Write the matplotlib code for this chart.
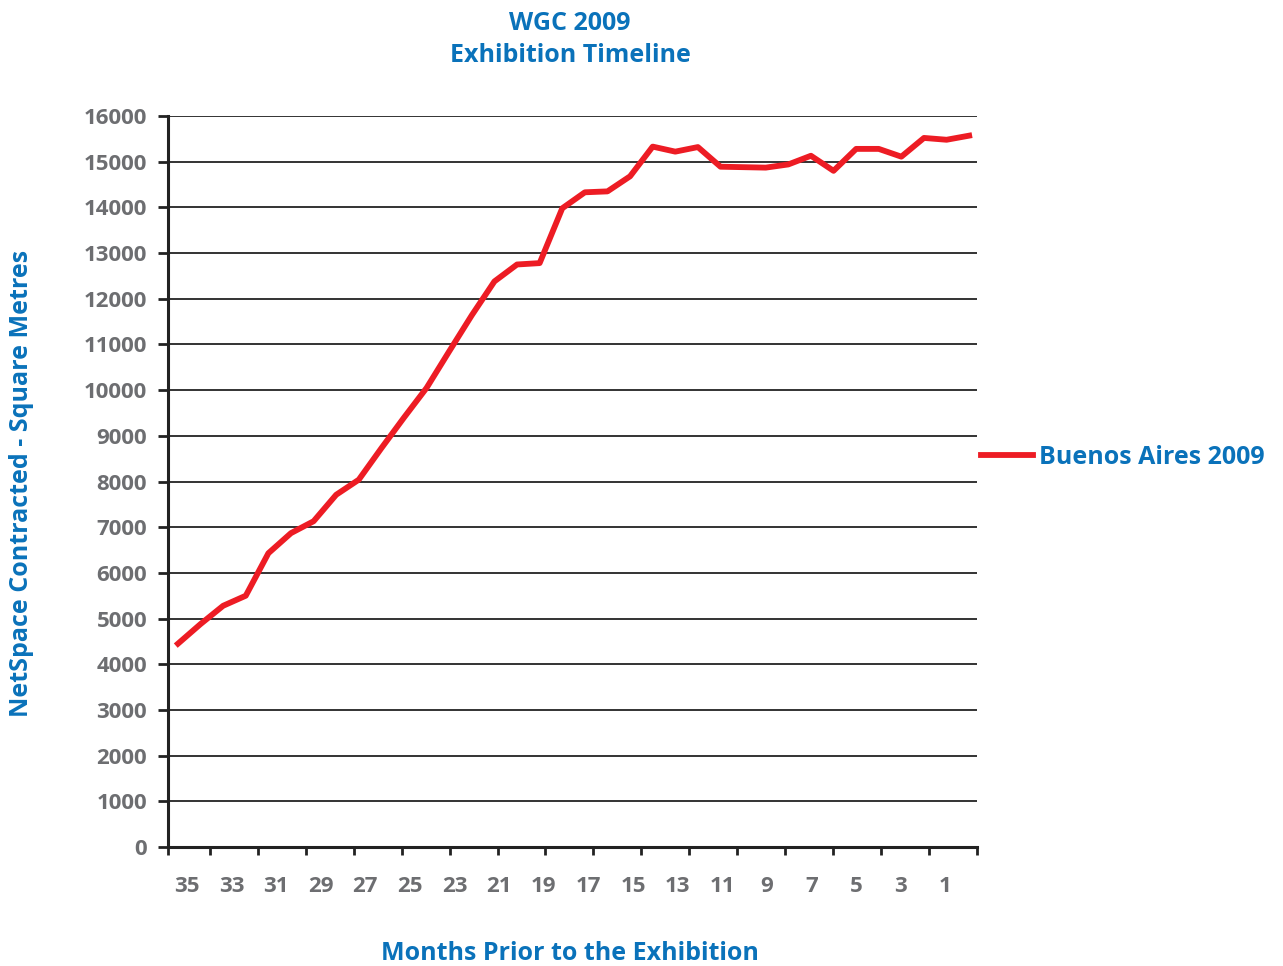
import matplotlib.pyplot as plt
import numpy as np

# Data: months prior to the exhibition and contracted net space (sq m)
months = list(range(36, 0, -1))
net_space = [4450, 4880, 5280, 5500, 6430, 6870, 7130, 7710, 8040, 8730,
             9400, 10050, 10850, 11640, 12380, 12750, 12780, 13980, 14330, 14350,
             14680, 15330, 15220, 15320, 14890, 14880, 14870, 14940, 15130, 14800,
             15280, 15280, 15110, 15520, 15480, 15570]

tick_labels = [35, 33, 31, 29, 27, 25, 23, 21, 19, 17, 15, 13, 11, 9, 7, 5, 3, 1]
y_ticks = list(range(0, 16001, 1000))

blue = "#0a72ba"
grey = "#6d6e71"
red = "#ed1c24"

plt.rcParams['font.family'] = ['Open Sans', 'DejaVu Sans']
plt.rcParams['font.weight'] = 'bold'

fig = plt.figure(figsize=(12.83, 9.66), dpi=100)
ax = fig.add_axes([168 / 1283, 1 - 847 / 966, (977 - 168) / 1283, (847 - 116) / 966])

line, = ax.plot(months, net_space, color=red, linewidth=4.2, solid_joinstyle='round')

# x axis: months run right-to-left, labels sit between the tick marks
ax.set_xlim(36.44, 0.69)
label_pos = [1.067 + 0.9867 * m for m in tick_labels]
ax.set_xticks(label_pos, [str(m) for m in tick_labels])
ax.set_xticks([36.44] + [34.59 - 2.121 * k for k in range(17)], minor=True)
ax.tick_params(axis='x', which='major', length=0, pad=21, labelsize=16, labelcolor=grey)
ax.tick_params(axis='x', which='minor', length=6, width=2, direction='out', color='#222222')

ax.set_ylim(0, 16000)
ax.set_yticks(y_ticks)
ax.tick_params(axis='y', length=7, width=2, direction='out', pad=8, labelsize=16,
               labelcolor=grey, color='#222222')
for lab in ax.get_xticklabels() + ax.get_yticklabels():
    lab.set_fontweight('bold')

ax.grid(axis='y', color='#333333', linewidth=1.4)
ax.set_axisbelow(True)
for side in ['top', 'right']:
    ax.spines[side].set_visible(False)
for side in ['left', 'bottom']:
    ax.spines[side].set_linewidth(2.2)
    ax.spines[side].set_color('#222222')

fig.text(570 / 1283, 1 - 23 / 966, "WGC 2009", ha='center', va='center',
         color=blue, fontsize=18, fontweight='bold')
fig.text(570 / 1283, 1 - 56 / 966, "Exhibition Timeline", ha='center', va='center',
         color=blue, fontsize=18, fontweight='bold')
fig.text(570 / 1283, 1 - 953 / 966, "Months Prior to the Exhibition", ha='center',
         va='center', color=blue, fontsize=18, fontweight='bold')
fig.text(22 / 1283, 1 - 483 / 966, "NetSpace Contracted - Square Metres", ha='center',
         va='center', rotation=90, color=blue, fontsize=18, fontweight='bold')

leg = fig.legend([line], ["Buenos Aires 2009"], loc='center left',
                 bbox_to_anchor=(958 / 1283, 1 - 457 / 966), frameon=False,
                 handlelength=2.1, handletextpad=0.25, prop={'size': 18, 'weight': 'bold'})
for t in leg.get_texts():
    t.set_color(blue)

fig.savefig("out.png", dpi=100)
